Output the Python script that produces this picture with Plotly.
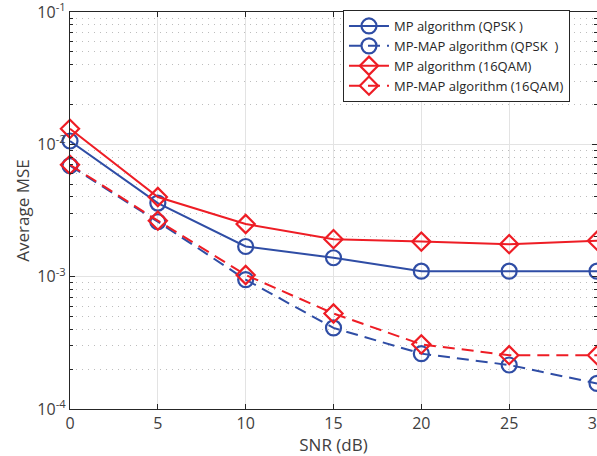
import plotly.graph_objects as go

snr = [0, 5, 10, 15, 20, 25, 30]
mp_qpsk = [0.0106, 0.0036, 0.00169, 0.00139, 0.00110, 0.00110, 0.00110]
mpmap_qpsk = [0.0069, 0.0026, 0.00095, 0.00041, 0.000262, 0.000215, 0.000156]
mp_16qam = [0.0131, 0.0040, 0.0025, 0.00192, 0.00184, 0.00176, 0.00187]
mpmap_16qam = [0.0070, 0.00265, 0.00103, 0.000527, 0.000308, 0.000255, 0.000255]

names = ["MP algorithm (QPSK )", "MP-MAP algorithm (QPSK  )",
         "MP algorithm (16QAM)", "MP-MAP algorithm (16QAM)"]
ytickvals = [1e-4, 1e-3, 1e-2, 1e-1]
yticktext = ["10<sup>-4</sup>", "10<sup>-3</sup>", "10<sup>-2</sup>", "10<sup>-1</sup>"]

BLUE = "#2F4DA5"
RED = "#EE1D25"
FONT = "Open Sans"
TXT = "#404040"

fig = go.Figure()
specs = [
    (mp_qpsk, names[0], BLUE, "solid", "circle-open", 15),
    (mpmap_qpsk, names[1], BLUE, "12px,7px", "circle-open", 15),
    (mp_16qam, names[2], RED, "solid", "diamond-open", 14),
    (mpmap_16qam, names[3], RED, "12px,7px", "diamond-open", 14),
]
for ys, nm, col, dash, sym, sz in specs:
    fig.add_trace(go.Scatter(
        x=snr, y=ys, name=nm, mode="lines+markers",
        line=dict(color=col, width=2, dash=dash),
        marker=dict(symbol=sym, size=sz, color=col, line=dict(width=2.2, color=col)),
        cliponaxis=False,
    ))

axis_col = "#262626"
fig.update_layout(
    width=597, height=456,
    margin=dict(l=70, r=0, t=12, b=47),
    paper_bgcolor="white", plot_bgcolor="white",
    font=dict(family=FONT, size=15, color=TXT),
    showlegend=True,
    legend=dict(
        x=0.518, y=1.005, xanchor="left", yanchor="top",
        bgcolor="white", bordercolor="#262626", borderwidth=1,
        font=dict(family=FONT, size=13, color="#262626"),
        tracegroupgap=0, itemwidth=40,
    ),
    xaxis=dict(
        range=[0, 30], tickvals=snr, ticks="inside", ticklen=5,
        tickcolor=axis_col, showline=True, linecolor=axis_col, linewidth=1.3,
        mirror="ticks", showgrid=True, gridcolor="#E3E3E3", gridwidth=1,
        zeroline=False, automargin=False, ticklabeloverflow="allow",
        title=dict(text="SNR (dB)", standoff=2, font=dict(size=17, color=TXT)),
        tickfont=dict(size=16, color=TXT),
    ),
    yaxis=dict(
        type="log", range=[-4, -1], tickvals=ytickvals, ticktext=yticktext,
        ticks="inside", ticklen=5, tickcolor=axis_col,
        showline=True, linecolor=axis_col, linewidth=1.3, mirror="ticks",
        showgrid=True, gridcolor="#E3E3E3", gridwidth=1, zeroline=False,
        automargin=False, ticklabeloverflow="allow",
        minor=dict(dtick="D1", showgrid=True, gridcolor="#BDBDBD",
                   griddash="1px,5px", ticks="inside", ticklen=3, tickcolor=axis_col),
        title=dict(text="Average MSE", standoff=3, font=dict(size=17, color=TXT)),
        tickfont=dict(size=16, color=TXT),
    ),
)

fig.write_html("out.html", config={"displayModeBar": False},
               post_script="document.body.style.margin='0px';")
